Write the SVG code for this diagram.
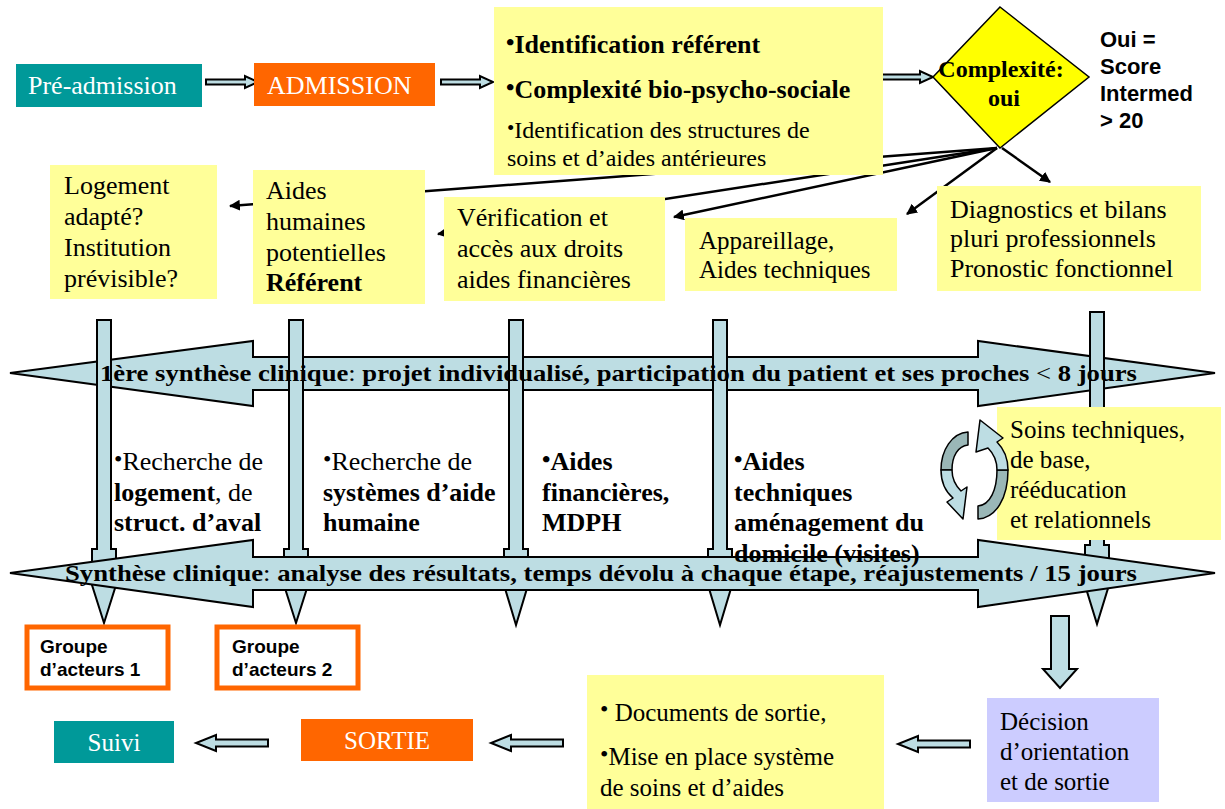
<svg xmlns="http://www.w3.org/2000/svg" width="1225" height="809" viewBox="0 0 1225 809">
<style>
.serif{font-family:"Liberation Serif","Times New Roman",serif;fill:#000}
.sans{font-family:"Liberation Sans",Arial,sans-serif;font-weight:bold;fill:#000}
.b{font-weight:bold}
.n{font-weight:normal}
.yel{fill:#ffff99}
.teal{fill:#009999}
.orange{fill:#ff6600}
.blk{fill:#bddde3;stroke:#000;stroke-width:2;stroke-linejoin:miter}
.ln{stroke:#000;stroke-width:2.5;fill:none}
.t26{font-size:26px}
.t25{font-size:25px}
.t24{font-size:24px}
.bul{font-size:24px}
</style>
<defs>
<marker id="ah2" viewBox="0 0 10 10" refX="9" refY="5" markerWidth="11" markerHeight="11" markerUnits="userSpaceOnUse" orient="auto">
<path d="M0,0 L10,5 L0,10 Z" fill="#000"/>
</marker>
<path id="arrS" d="M0,-2.5 H39 V-6 L52,0 L39,6 V2.5 H0 Z"/>
<path id="arrL" d="M0,-3.5 H52 V-8 L72,0 L52,8 V3.5 H0 Z"/>
</defs>

<rect width="1225" height="809" fill="#fff"/>

<!-- connectors (behind boxes) -->
<g id="connectors">
<line class="ln" x1="997" y1="148" x2="230" y2="206" marker-end="url(#ah2)"/>
<line class="ln" x1="997" y1="148" x2="438" y2="234" marker-end="url(#ah2)"/>
<line class="ln" x1="997" y1="148" x2="674" y2="217" marker-end="url(#ah2)"/>
<line class="ln" x1="997" y1="148" x2="907" y2="214" marker-end="url(#ah2)"/>
<line class="ln" x1="1002" y1="148" x2="1050" y2="182" marker-end="url(#ah2)"/>
<use href="#arrS" class="blk" transform="translate(206,82)"/>
<use href="#arrS" class="blk" transform="translate(441,82)"/>
<use href="#arrS" class="blk" transform="translate(881,77)"/>
<use href="#arrL" class="blk" transform="translate(970,744) scale(-1,1)"/>
<use href="#arrL" class="blk" transform="translate(563,743) scale(-1,1)"/>
<use href="#arrL" class="blk" transform="translate(268,743) scale(-1,1)"/>
<path class="blk" d="M1051,616 H1069 V669 H1077 L1060,688 L1043,669 H1051 Z"/>
</g>

<!-- top row -->
<g id="pre-admission">
<rect class="teal" x="16" y="64" width="186" height="43"/>
<text class="serif t26" x="28" y="94" style="fill:#fff">Pré-admission</text>
</g>
<g id="admission">
<rect class="orange" x="254" y="63" width="181" height="43"/>
<text class="serif t26" x="267" y="94" style="fill:#fff">ADMISSION</text>
</g>
<g id="identification">
<rect class="yel" x="494" y="7" width="389" height="168"/>
<text class="serif b t26" x="506" y="53"><tspan class="bul" dy="-3">•</tspan><tspan dy="3">Identification référent</tspan></text>
<text class="serif b t26" x="506" y="98"><tspan class="bul" dy="-3">•</tspan><tspan dy="3">Complexité bio-psycho-sociale</tspan></text>
<text class="serif t24" x="507" y="138"><tspan font-size="21" dy="-3">•</tspan><tspan dy="3">Identification des structures de</tspan></text>
<text class="serif t24" x="507" y="166">soins et d’aides antérieures</text>
</g>
<g id="complexite">
<path d="M1000,7 L1089,77 L1000,148 L933,77 Z" fill="#ffff00" stroke="#000" stroke-width="1.5"/>
<text class="serif b" font-size="24" x="1001" y="77" text-anchor="middle">Complexité:</text>
<text class="serif b" font-size="24" x="1004" y="106" text-anchor="middle">oui</text>
</g>
<g id="score">
<text class="sans" font-size="22" x="1100" y="47">Oui =</text>
<text class="sans" font-size="22" x="1100" y="74">Score</text>
<text class="sans" font-size="22" x="1100" y="101">Intermed</text>
<text class="sans" font-size="22" x="1100" y="128">&gt; 20</text>
</g>

<!-- second row -->
<g id="logement">
<rect class="yel" x="50" y="165" width="167" height="134"/>
<text class="serif t26" x="64" y="194">Logement</text>
<text class="serif t26" x="64" y="225">adapté?</text>
<text class="serif t26" x="64" y="256">Institution</text>
<text class="serif t26" x="64" y="287">prévisible?</text>
</g>
<g id="aides-humaines">
<rect class="yel" x="253" y="170" width="172" height="134"/>
<text class="serif t26" x="266" y="199">Aides</text>
<text class="serif t26" x="266" y="230">humaines</text>
<text class="serif t26" x="266" y="261">potentielles</text>
<text class="serif t26 b" x="266" y="291">Référent</text>
</g>
<g id="verification">
<rect class="yel" x="444" y="197" width="221" height="104"/>
<text class="serif t26" x="457" y="226">Vérification et</text>
<text class="serif t26" x="457" y="257">accès aux droits</text>
<text class="serif t26" x="457" y="288">aides financières</text>
</g>
<g id="appareillage">
<rect class="yel" x="685" y="218" width="212" height="73"/>
<text class="serif t25" x="699" y="249">Appareillage,</text>
<text class="serif t25" x="699" y="278">Aides techniques</text>
</g>
<g id="diagnostics">
<rect class="yel" x="937" y="186" width="264" height="105"/>
<text class="serif t26" x="950" y="218">Diagnostics et bilans</text>
<text class="serif t26" x="950" y="247">pluri professionnels</text>
<text class="serif t26" x="950" y="277">Pronostic fonctionnel</text>
</g>

<!-- timeline -->
<g id="synthese-1">
<path class="blk" d="M10,373 L253,341 V357 H978 V341 L1215,373 L978,406 V390 H253 V406 Z"/>
</g>
<g id="timeline-arrows">
<path class="blk" d="M97,320 H111 V549 H116 V585 L104,623 L92,585 V549 H97 Z"/>
<path class="blk" d="M289,320 H303 V549 H308 V585 L296,623 L284,585 V549 H289 Z"/>
<path class="blk" d="M509,320 H523 V549 H528 V585 L516,625 L504,585 V549 H509 Z"/>
<path class="blk" d="M713,320 H727 V549 H732 V585 L720,625 L708,585 V549 H713 Z"/>
<path class="blk" d="M1090,312 H1104 V545 H1109 V585 L1097,624 L1085,585 V545 H1090 Z"/>
</g>
<g id="synthese-2">
<path class="blk" d="M10,573 L253,540 V557 H978 V540 L1215,573 L978,607 V590 H253 V607 Z"/>
</g>

<g id="soins">
<rect class="yel" x="997" y="407" width="224" height="133"/>
<text class="serif t25" x="1010" y="438">Soins techniques,</text>
<text class="serif t25" x="1010" y="468">de base,</text>
<text class="serif t25" x="1010" y="498">rééducation</text>
<text class="serif t25" x="1010" y="528">et relationnels</text>
</g>
<g id="cycle" stroke="#000" stroke-width="1.5" stroke-linejoin="round">
<path d="M968,432 C952,433 941,450 941,470 L952,470 C952,456 958,446 968,445 Z" fill="#9ab7b7"/>
<path d="M941,470 C941,482 946,492 953,498 L947,502 L963,519 L967,487 L961,491 C955,485 952,478 952,470 Z" fill="#bddde3"/>
<path d="M978,519 C996,518 1008,498 1008,470 L997,470 C997,490 990,505 978,506 Z" fill="#9ab7b7"/>
<path d="M1008,470 C1008,458 1004,449 997,442 L1003,438 L980,420 L976,452 L988,448 C994,454 997,461 997,470 Z" fill="#bddde3"/>
</g>

<g id="synthese-1-label">
<text class="serif b t24" x="100" y="381" textLength="1037" lengthAdjust="spacingAndGlyphs">1ère synthèse clinique<tspan class="n">: </tspan>projet individualisé, participation du patient et ses proches <tspan class="n">&lt;</tspan> 8 jours</text>
</g>

<g id="recherche-logement">
<text class="serif t26" x="114" y="470"><tspan class="bul" dy="-3">•</tspan><tspan dy="3">Recherche de</tspan></text>
<text class="serif t26" x="114" y="501"><tspan class="b">logement</tspan>, de</text>
<text class="serif t26 b" x="114" y="531">struct. d’aval</text>
</g>
<g id="recherche-aide">
<text class="serif t26" x="323" y="470"><tspan class="bul" dy="-3">•</tspan><tspan dy="3">Recherche de</tspan></text>
<text class="serif t26 b" x="323" y="501">systèmes d’aide</text>
<text class="serif t26 b" x="323" y="531">humaine</text>
</g>
<g id="aides-financieres">
<text class="serif t26 b" x="542" y="470"><tspan class="bul" dy="-3">•</tspan><tspan dy="3">Aides</tspan></text>
<text class="serif t26 b" x="542" y="501">financières,</text>
<text class="serif t26 b" x="542" y="531">MDPH</text>
</g>
<g id="aides-techniques">
<text class="serif t26 b" x="734" y="470"><tspan class="bul" dy="-3">•</tspan><tspan dy="3">Aides</tspan></text>
<text class="serif t26 b" x="734" y="501">techniques</text>
<text class="serif t26 b" x="734" y="531">aménagement du</text>
<text class="serif t26 b" x="734" y="562">domicile (visites)</text>
</g>

<g id="synthese-2-label">
<text class="serif b t24" x="65" y="581" textLength="1072" lengthAdjust="spacingAndGlyphs">Synthèse clinique<tspan class="n">: </tspan>analyse des résultats, temps dévolu à chaque étape, réajustements / 15 jours</text>
</g>

<!-- bottom -->
<g id="groupe-1">
<rect x="27" y="627" width="141" height="61" fill="#fff" stroke="#ff6600" stroke-width="5"/>
<text class="sans" font-size="19" x="40" y="653">Groupe</text>
<text class="sans" font-size="19" x="40" y="676">d’acteurs 1</text>
</g>
<g id="groupe-2">
<rect x="217" y="627" width="141" height="61" fill="#fff" stroke="#ff6600" stroke-width="5"/>
<text class="sans" font-size="19" x="232" y="653">Groupe</text>
<text class="sans" font-size="19" x="232" y="676">d’acteurs 2</text>
</g>
<g id="decision">
<rect x="987" y="698" width="172" height="104" fill="#ccccff"/>
<text class="serif t25" x="1000" y="730">Décision</text>
<text class="serif t25" x="1000" y="760">d’orientation</text>
<text class="serif t25" x="1000" y="790">et de sortie</text>
</g>
<g id="documents">
<rect class="yel" x="587" y="675" width="297" height="134"/>
<text class="serif t25" x="600" y="721"><tspan class="bul" dy="-4">•</tspan><tspan dy="4"> Documents de sortie,</tspan></text>
<text class="serif t25" x="600" y="765"><tspan class="bul" dy="-3">•</tspan><tspan dy="3">Mise en place système</tspan></text>
<text class="serif t25" x="600" y="796">de soins et d’aides</text>
</g>
<g id="sortie">
<rect class="orange" x="301" y="719" width="172" height="42"/>
<text class="serif t25" x="387" y="749" text-anchor="middle" style="fill:#fff">SORTIE</text>
</g>
<g id="suivi">
<rect class="teal" x="54" y="721" width="120" height="42"/>
<text class="serif t25" x="114" y="751" text-anchor="middle" style="fill:#fff">Suivi</text>
</g>
</svg>
